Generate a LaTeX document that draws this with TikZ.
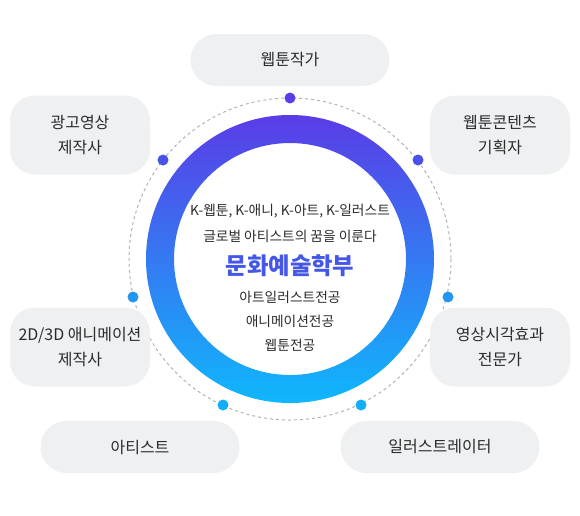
\documentclass[tikz,border=0pt]{standalone}
\usepackage{fontspec}
\setmainfont{Noto Sans CJK KR}
\usepackage{tikz}

\definecolor{boxgray}{HTML}{EEF0F2}
\definecolor{txtgray}{HTML}{2B2B2B}
\definecolor{ringtop}{HTML}{5A3CE7}
\definecolor{ringbot}{HTML}{0FB7FC}
\definecolor{dotA}{HTML}{5A3DE8}
\definecolor{dotB}{HTML}{4952E8}
\definecolor{dotC}{HTML}{2395F2}
\definecolor{dotD}{HTML}{12AEF9}
\definecolor{titleblue}{HTML}{4457E8}

\begin{document}
\begin{tikzpicture}[x=0.75pt,y=-0.75pt,
		job/.style={fill=boxgray,rounded corners=18.75pt,minimum width=105pt,minimum height=59.25pt,
			align=center,text=txtgray,font=\fontsize{12}{18.75}\selectfont},
		pill/.style={job,rounded corners=19.5pt,minimum width=149.25pt,minimum height=39pt},
		dot/.style={circle,inner sep=0pt,minimum size=8.25pt},
		inner/.style={align=center,text=txtgray,font=\fontsize{10.3}{19.5}\selectfont}]
	\useasboundingbox (0,0) rectangle (580,515);
	\coordinate (c) at (290,259);
	\shade[top color=ringtop,bottom color=ringbot,even odd rule] (c) circle (144) (c) circle (116);
	\draw[gray!60,line width=0.75pt,dash pattern=on 2.25pt off 2.25pt] (c) circle (161);

	\node[dot,fill=dotA] (d1) at (290,98) {};
	\node[dot,fill=dotB] (d2) at (163,160) {};
	\node[dot,fill=dotB] (d3) at (418,160) {};
	\node[dot,fill=dotC] (d4) at (133,297) {};
	\node[dot,fill=dotC] (d5) at (448,297) {};
	\node[dot,fill=dotD] (d6) at (223,405) {};
	\node[dot,fill=dotD] (d7) at (361,405) {};

	\node[pill] (webtoon) at (290,60) {웹툰작가};
	\node[job] (ad) at (80,135) {광고영상\\제작사};
	\node[job] (contents) at (500,135) {웹툰콘텐츠\\기획자};
	\node[job] (anim) at (80,347) {2D/3D 애니메이션\\제작사};
	\node[job] (vfx) at (500,347) {영상시각효과\\전문가};
	\node[pill] (artist) at (140,447) {아티스트};
	\node[pill] (illust) at (440,447) {일러스트레이터};

	\node[inner] (slogan) at (290,223) {K-웹툰, K-애니, K-아트, K-일러스트\\글로벌 아티스트의 꿈을 이룬다};
	\node[font=\fontsize{17.5}{20}\selectfont\bfseries,text=titleblue] (dept) at (290,266) {문화예술학부};
	\node[inner,font=\fontsize{10.3}{18}\selectfont] (majors) at (290,321) {아트일러스트전공\\애니메이션전공\\웹툰전공};
\end{tikzpicture}
\end{document}
